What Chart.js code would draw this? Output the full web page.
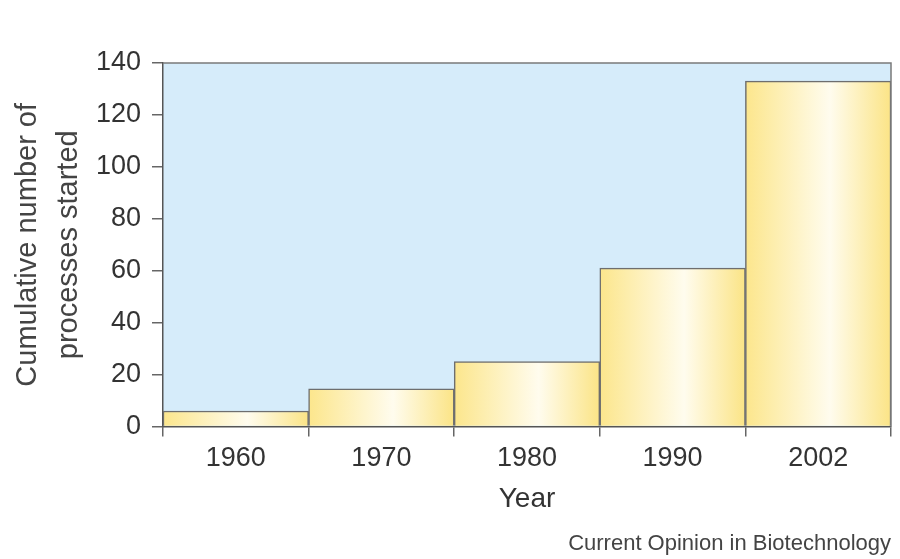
<!DOCTYPE html>
<html>
<head>
<meta charset="utf-8">
<script src="https://cdn.jsdelivr.net/npm/chart.js@4"></script>
<style>
  html, body { margin: 0; padding: 0; background: #fff; }
  #wrap { width: 900px; height: 559px; }
</style>
</head>
<body>
<div id="wrap"><canvas id="process_chart" width="900" height="559"></canvas></div>
<script>
const years = ['1960', '1970', '1980', '1990', '2002'];
const processes = [6, 14.5, 25, 61, 133];
const yTicks = [0, 20, 40, 60, 80, 100, 120, 140];

const FONT = 'Liberation Sans, Arial, sans-serif';

// plot background + top/right frame
const plotFrame = {
    id: 'plotFrame',
    beforeDraw(chart) {
        const { ctx, chartArea: a } = chart;
        ctx.save();
        ctx.fillStyle = '#d6ecfa';
        ctx.fillRect(a.left, a.top, a.right - a.left, a.bottom - a.top);
        ctx.restore();
    },
    afterDraw(chart) {
        const { ctx, chartArea: a } = chart;
        ctx.save();
        ctx.strokeStyle = '#7a7a7a';
        ctx.lineWidth = 1.5;
        ctx.beginPath();
        ctx.moveTo(a.left, a.top);
        ctx.lineTo(a.right, a.top);
        ctx.lineTo(a.right, a.bottom);
        ctx.stroke();
        ctx.restore();
    }
};

function barFill(c) {
    const chart = c.chart;
    if (!chart.chartArea || !chart.scales.x) return '#fdeea0';
    const xs = chart.scales.x;
    const w = xs.width / years.length;
    const cx = xs.getPixelForValue(c.dataIndex);
    const g = chart.ctx.createLinearGradient(cx - w / 2, 0, cx + w / 2, 0);
    g.addColorStop(0, '#fce68c');
    g.addColorStop(0.58, '#fffcee');
    g.addColorStop(1, '#fbe486');
    return g;
}

new Chart(document.getElementById('process_chart').getContext('2d'), {
    type: 'bar',
    data: {
        labels: years,
        datasets: [{
            label: 'Processes',
            data: processes,
            backgroundColor: barFill,
            borderColor: '#6e6e6e',
            borderWidth: 1.5,
            borderSkipped: 'bottom',
            barPercentage: 1,
            categoryPercentage: 1
        }]
    },
    options: {
        responsive: false,
        animation: false,
        devicePixelRatio: 1,
        layout: { padding: { left: 8, right: 9, top: 63, bottom: 2 } },
        plugins: {
            legend: { display: false },
            tooltip: { enabled: false },
            subtitle: {
                display: true,
                text: 'Current Opinion in Biotechnology',
                position: 'bottom',
                align: 'end',
                color: '#444',
                font: { family: FONT, size: 22 },
                padding: { top: 15, bottom: 0 }
            }
        },
        scales: {
            x: {
                offset: true,
                grid: { offset: true, drawOnChartArea: false, tickLength: 10, color: '#666', lineWidth: 1.5 },
                border: { color: '#555', width: 1.5 },
                ticks: { color: '#333', font: { family: FONT, size: 27 }, padding: 6 },
                title: { display: true, text: 'Year', color: '#333', font: { family: FONT, size: 28 }, padding: { top: 1, bottom: 0 } }
            },
            y: {
                min: 0,
                max: 140,
                afterBuildTicks(scale) { scale.ticks = yTicks.map(v => ({ value: v })); },
                afterFit(scale) { scale.width = 155; },
                grid: { drawOnChartArea: false, tickLength: 11, color: '#666', lineWidth: 1.5 },
                border: { color: '#555', width: 1.5 },
                ticks: { color: '#333', font: { family: FONT, size: 27 }, padding: 11 },
                title: {
                    display: true,
                    text: ['Cumulative number of', 'processes started'],
                    color: '#444',
                    font: { family: FONT, size: 29, lineHeight: 1.4 },
                    padding: { top: 0, bottom: 0 }
                }
            }
        }
    },
    plugins: [plotFrame]
});
</script>
</body>
</html>
